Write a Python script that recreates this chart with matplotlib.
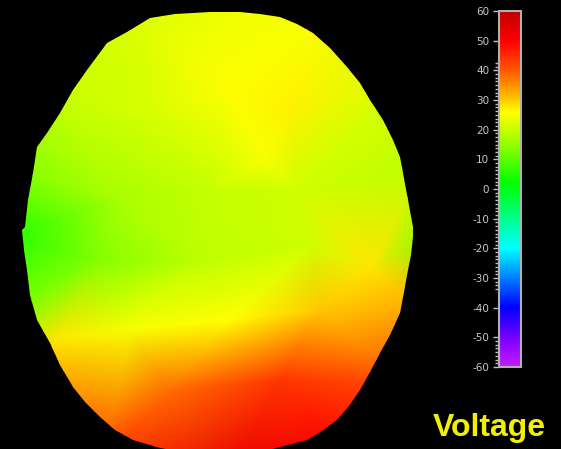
import numpy as np
import matplotlib
matplotlib.use("Agg")
import matplotlib.pyplot as plt
from matplotlib.colors import LinearSegmentedColormap, Normalize
from matplotlib.patches import Polygon
from matplotlib.ticker import FuncFormatter
import matplotlib.tri as mtri

# Electrode positions (image coordinates, y downward) and measured voltages
elec_x = [225, 125, 325, 50, 395, 15, 425, 8, 428, 15, 425, 40, 400, 105, 345, 225,
          150, 230, 290, 120, 210, 300, 100, 200, 310, 130, 230, 320, 170, 280,
          370, 55, 265]
elec_y = [0, 18, 15, 95, 85, 170, 165, 235, 235, 310, 310, 385, 380, 455, 450, 475,
          110, 90, 110, 200, 190, 190, 260, 260, 245, 330, 320, 310, 390, 380,
          268, 340, 160]
voltage = [24, 22, 25, 20, 22, 14, 19, 5, 14, 13, 33, 34, 41, 43, 50, 53,
           22, 26, 27, 17, 20, 21, 14, 19, 21, 25, 26, 30, 38, 44,
           28, 28, 25]

# Scalp outline
outline_x = [150, 175, 210, 240, 260, 280, 297, 313, 330, 347, 360, 370, 383, 393, 400,
             403, 408, 413, 413, 411, 408, 404, 400, 390, 380, 370, 360, 349, 337, 322,
             307, 280, 250, 200, 160, 133, 115, 100, 85, 73, 60, 50, 37, 30, 27, 24, 22,
             25, 28, 33, 37, 47, 60, 73, 87, 107, 127]
outline_y = [18, 14, 12, 12, 14, 17, 24, 33, 48, 67, 83, 100, 120, 140, 157,
             173, 200, 227, 237, 255, 270, 292, 313, 335, 353, 372, 390, 406, 420, 431,
             440, 447, 455, 455, 448, 440, 430, 417, 402, 387, 365, 343, 320, 295, 270, 250, 230,
             227, 200, 173, 147, 133, 113, 90, 70, 43, 32]

# Colour scale
vmin, vmax = -60, 60
cbar_ticks = [60, 50, 40, 30, 20, 10, 0, -10, -20, -30, -40, -50, -60]
scale_stops = [(-60, (0.78, 0.10, 1.0)), (-50, (0.45, 0.0, 1.0)), (-40, (0.0, 0.0, 1.0)),
               (-30, (0.0, 0.5, 1.0)), (-20, (0.0, 1.0, 1.0)), (-10, (0.0, 1.0, 0.55)),
               (2, (0.0, 1.0, 0.0)), (10, (0.35, 1.0, 0.0)), (18, (0.7, 1.0, 0.0)),
               (26, (1.0, 1.0, 0.0)), (32, (1.0, 0.7, 0.0)), (40, (1.0, 0.35, 0.0)),
               (50, (1.0, 0.0, 0.0)), (60, (0.75, 0.0, 0.0))]
cmap = LinearSegmentedColormap.from_list(
    "voltage", [((v - vmin) / (vmax - vmin), c) for v, c in scale_stops])
norm = Normalize(vmin, vmax)

W, H = 561, 449
fig = plt.figure(figsize=(W / 100, H / 100), dpi=100, facecolor="black")
ax = fig.add_axes([0, 0, 1, 1])
ax.set_facecolor("black")
ax.set_xlim(0, W)
ax.set_ylim(H, 0)
ax.axis("off")

# Linear interpolation between electrodes over the Delaunay mesh
tri = mtri.Triangulation(np.array(elec_x, float), np.array(elec_y, float))
head = Polygon(np.column_stack([outline_x, outline_y]), closed=True,
               facecolor="none", edgecolor="none", transform=ax.transData)
ax.add_patch(head)
mesh = ax.tripcolor(tri, np.array(voltage, float), cmap=cmap, norm=norm,
                    shading="gouraud")
mesh.set_clip_path(head)

# Colour bar
cax = fig.add_axes([499 / W, 1 - 367 / H, 22 / W, 356 / H])
cb = fig.colorbar(mesh, cax=cax, ticks=cbar_ticks,
                  format=FuncFormatter(lambda v, _: f"{int(round(v))}"))
cb.outline.set_edgecolor("#b0b0b0")
cb.outline.set_linewidth(1.5)
cax.yaxis.set_ticks_position("left")
cax.tick_params(axis="y", colors="#c0c0c0", labelsize=7.5, length=4, width=1, pad=3)
minor = list(np.arange(-33.75, 43, 1.25)) + list(np.arange(-58.75, -51, 1.25))
cax.set_yticks(minor, minor=True)
cax.tick_params(axis="y", which="minor", colors="#c0c0c0", length=3, width=1)
for lbl in cax.get_yticklabels():
    lbl.set_color("#c8c8c8")

fig.text(433 / W, 1 - 436 / H, "Voltage", color="#f0f000", fontsize=23,
         fontweight="bold", family="Liberation Sans", ha="left", va="baseline")

fig.savefig("out.png", dpi=100, facecolor="black")
